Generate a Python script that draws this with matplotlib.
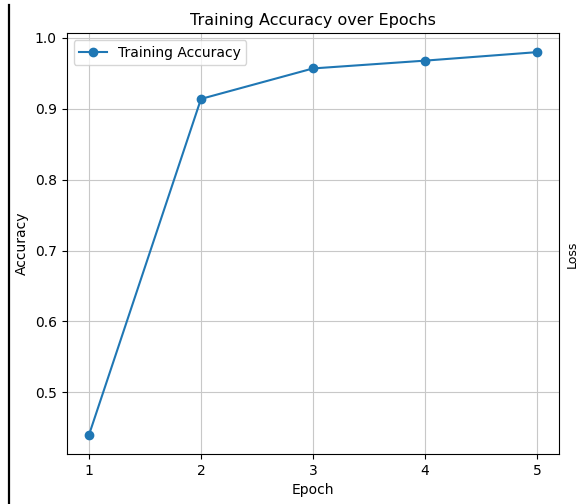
import matplotlib
matplotlib.use("Agg")
import matplotlib.pyplot as plt
from matplotlib.lines import Line2D

epochs = [1, 2, 3, 4, 5]
train_acc = [0.440, 0.914, 0.957, 0.968, 0.980]

W, H = 580, 504
fig = plt.figure(figsize=(W / 100, H / 100), dpi=100)

# main axes, placed to match the cropped notebook screenshot
ax = fig.add_axes([66.6 / W, (H - 454) / H, (559.4 - 66.6) / W, (454 - 33) / H])
ax.plot(epochs, train_acc, marker='o', color='tab:blue', label='Training Accuracy')
ax.set_title('Training Accuracy over Epochs', fontsize=11.5)
ax.set_xlabel('Epoch', fontsize=10)
ax.set_ylabel('Accuracy', fontsize=10)
ax.set_xticks(epochs)
ax.grid(True, color='#c8c8c8')
ax.legend(loc='upper left')

# leftover bits of the notebook cell / neighbouring subplot
fig.lines.append(Line2D([8.5 / W, 8.5 / W], [0, (H - 5) / H], transform=fig.transFigure,
                        color='black', linewidth=1.6))
fig.text(579 / W, 250 / H, 'Loss', rotation=90, ha='right', va='center', fontsize=9)

fig.savefig('out.png', dpi=100)
